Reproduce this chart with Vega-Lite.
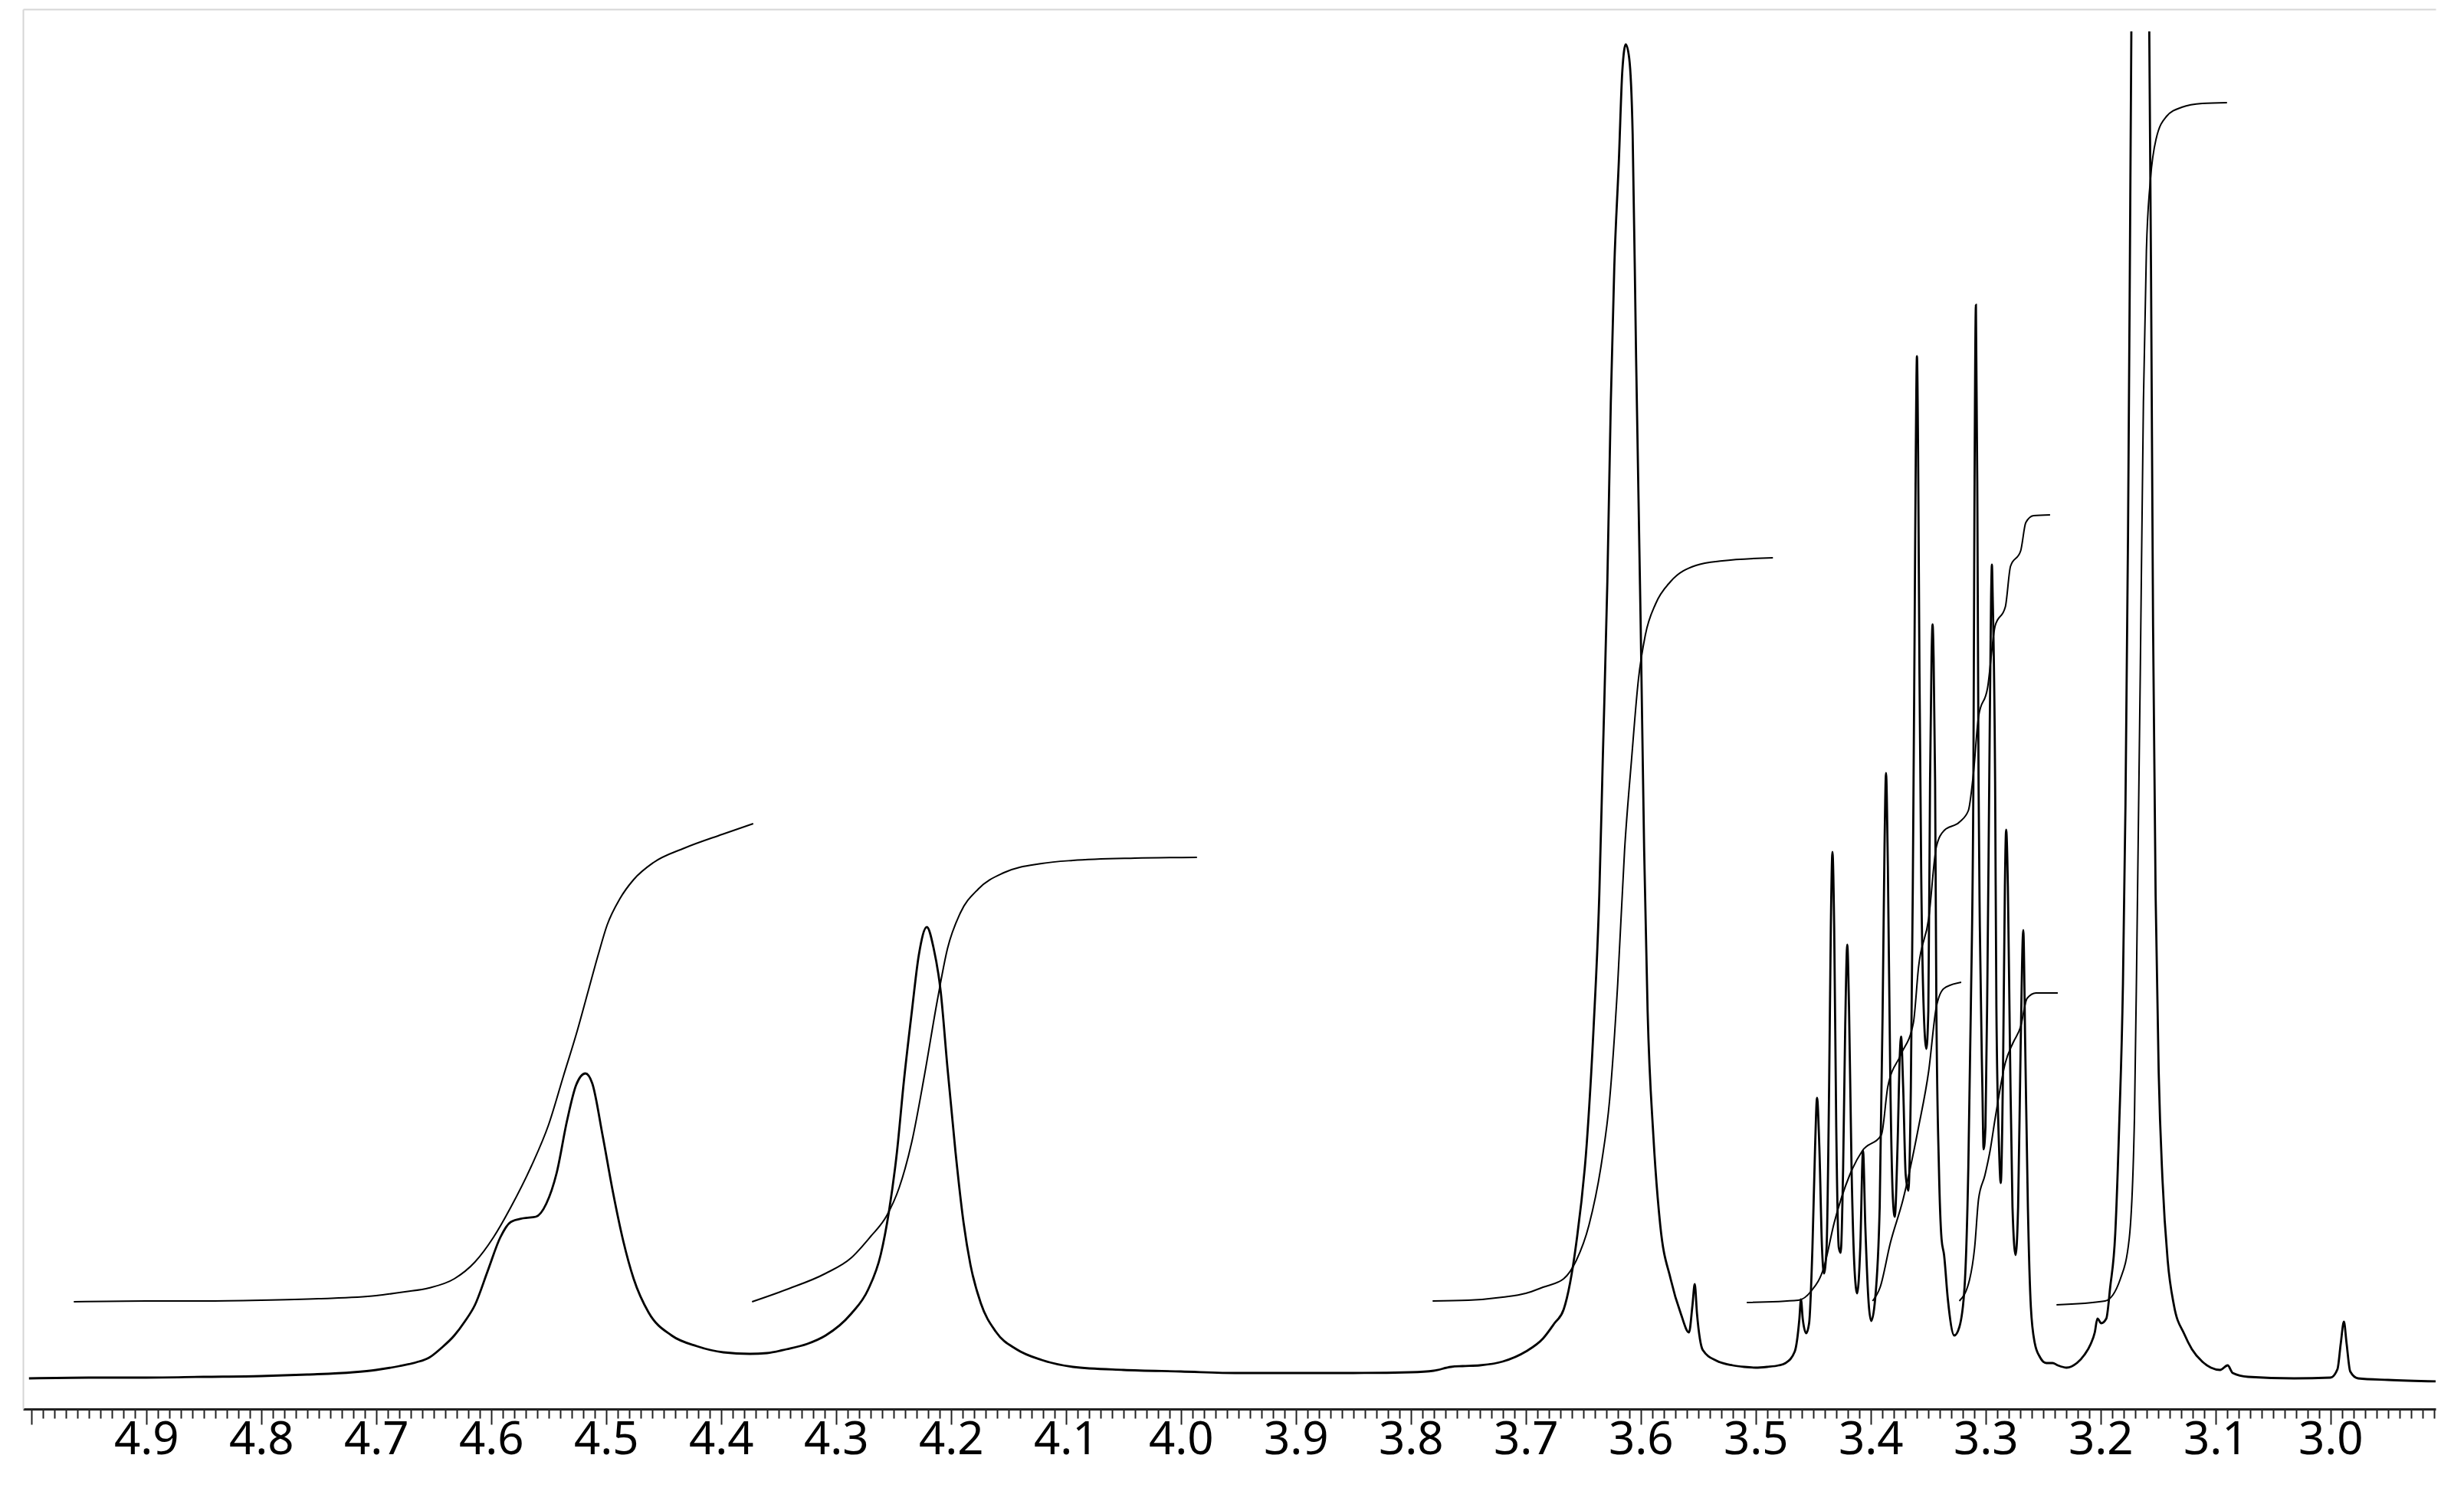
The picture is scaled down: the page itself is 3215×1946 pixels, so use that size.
{
  "$schema": "https://vega.github.io/schema/vega-lite/v6.json",
  "width": 3148,
  "height": 1827,
  "autosize": {"type": "none"},
  "padding": {"left": 30, "top": 12, "right": 37, "bottom": 107},
  "background": "white",
  "config": {"view": {"stroke": null}},
  "datasets": {
    "spectrum": [
      {"s":"a","x":5.002,"y":40},{"s":"a","x":4.95,"y":41},{"s":"a","x":4.9,"y":41},{"s":"a","x":4.85,"y":42},{"s":"a","x":4.8,"y":43},{"s":"a","x":4.76,"y":45},{"s":"a","x":4.72,"y":48},{"s":"a","x":4.7,"y":51},{"s":"a","x":4.68,"y":56},{"s":"a","x":4.665,"y":61},{"s":"a","x":4.654,"y":67},{"s":"a","x":4.643,"y":80},{"s":"a","x":4.632,"y":96},{"s":"a","x":4.623,"y":114},{"s":"a","x":4.614,"y":136},{"s":"a","x":4.603,"y":180},{"s":"a","x":4.592,"y":224},{"s":"a","x":4.583,"y":244},{"s":"a","x":4.572,"y":249},{"s":"a","x":4.561,"y":251},{"s":"a","x":4.552,"y":268},{"s":"a","x":4.543,"y":308},{"s":"a","x":4.534,"y":376},{"s":"a","x":4.526,"y":423},{"s":"a","x":4.518,"y":438},{"s":"a","x":4.512,"y":425},{"s":"a","x":4.503,"y":357},{"s":"a","x":4.494,"y":283},{"s":"a","x":4.485,"y":219},{"s":"a","x":4.476,"y":170},{"s":"a","x":4.463,"y":126},{"s":"a","x":4.443,"y":96},{"s":"a","x":4.421,"y":82},{"s":"a","x":4.398,"y":74},{"s":"a","x":4.375,"y":72},{"s":"a","x":4.36,"y":73},{"s":"a","x":4.343,"y":78},{"s":"a","x":4.325,"y":85},{"s":"a","x":4.309,"y":96},{"s":"a","x":4.287,"y":124},{"s":"a","x":4.272,"y":156},{"s":"a","x":4.261,"y":202},{"s":"a","x":4.254,"y":257},{"s":"a","x":4.247,"y":335},{"s":"a","x":4.241,"y":427},{"s":"a","x":4.234,"y":519},{"s":"a","x":4.228,"y":592},{"s":"a","x":4.221,"y":629},{"s":"a","x":4.215,"y":601},{"s":"a","x":4.209,"y":546},{"s":"a","x":4.203,"y":445},{"s":"a","x":4.196,"y":335},{"s":"a","x":4.189,"y":243},{"s":"a","x":4.183,"y":188},{"s":"a","x":4.174,"y":138},{"s":"a","x":4.161,"y":101},{"s":"a","x":4.143,"y":78},{"s":"a","x":4.121,"y":64},{"s":"a","x":4.094,"y":55},{"s":"a","x":4.05,"y":51},{"s":"a","x":4.0,"y":49},{"s":"a","x":3.95,"y":47},{"s":"a","x":3.9,"y":47},{"s":"a","x":3.85,"y":47},{"s":"a","x":3.8,"y":48},{"s":"a","x":3.78,"y":50},{"s":"a","x":3.765,"y":55},{"s":"a","x":3.755,"y":56},{"s":"a","x":3.74,"y":57},{"s":"a","x":3.72,"y":62},{"s":"a","x":3.7,"y":75},{"s":"a","x":3.685,"y":92},{"s":"a","x":3.675,"y":112},{"s":"a","x":3.667,"y":130},{"s":"a","x":3.656,"y":217},{"s":"a","x":3.647,"y":345},{"s":"a","x":3.641,"y":497},{"s":"a","x":3.636,"y":672},{"s":"a","x":3.633,"y":847},{"s":"a","x":3.629,"y":1080},{"s":"a","x":3.626,"y":1314},{"s":"a","x":3.623,"y":1489},{"s":"a","x":3.619,"y":1629},{"s":"a","x":3.616,"y":1746},{"s":"a","x":3.613,"y":1781},{"s":"a","x":3.61,"y":1763},{"s":"a","x":3.607,"y":1664},{"s":"a","x":3.604,"y":1372},{"s":"a","x":3.6,"y":1022},{"s":"a","x":3.597,"y":730},{"s":"a","x":3.594,"y":520},{"s":"a","x":3.589,"y":357},{"s":"a","x":3.583,"y":240},{"s":"a","x":3.574,"y":170},{"s":"a","x":3.565,"y":124},{"s":"a","x":3.558,"y":100},{"s":"a","x":3.555,"y":135},{"s":"a","x":3.553,"y":163},{"s":"a","x":3.551,"y":124},{"s":"a","x":3.546,"y":77},{"s":"a","x":3.534,"y":63},{"s":"a","x":3.52,"y":57},{"s":"a","x":3.51,"y":55},{"s":"a","x":3.5,"y":54},{"s":"a","x":3.49,"y":55},{"s":"a","x":3.48,"y":57},{"s":"a","x":3.474,"y":60},{"s":"a","x":3.466,"y":75},{"s":"a","x":3.462,"y":117},{"s":"a","x":3.4606,"y":143},{"s":"a","x":3.459,"y":117},{"s":"a","x":3.456,"y":99},{"s":"a","x":3.4535,"y":112},{"s":"a","x":3.4506,"y":211},{"s":"a","x":3.4483,"y":342},{"s":"a","x":3.4466,"y":406},{"s":"a","x":3.4446,"y":342},{"s":"a","x":3.4423,"y":211},{"s":"a","x":3.4406,"y":177},{"s":"a","x":3.4383,"y":211},{"s":"a","x":3.4361,"y":421},{"s":"a","x":3.4346,"y":630},{"s":"a","x":3.4332,"y":727},{"s":"a","x":3.4317,"y":630},{"s":"a","x":3.4299,"y":368},{"s":"a","x":3.4277,"y":211},{"s":"a","x":3.4261,"y":204},{"s":"a","x":3.4239,"y":316},{"s":"a","x":3.4221,"y":499},{"s":"a","x":3.4203,"y":606},{"s":"a","x":3.4188,"y":525},{"s":"a","x":3.4166,"y":316},{"s":"a","x":3.4139,"y":180},{"s":"a","x":3.4117,"y":151},{"s":"a","x":3.409,"y":211},{"s":"a","x":3.4066,"y":337},{"s":"a","x":3.4046,"y":238},{"s":"a","x":3.4017,"y":138},{"s":"a","x":3.3995,"y":115},{"s":"a","x":3.3961,"y":143},{"s":"a","x":3.3921,"y":264},{"s":"a","x":3.3895,"y":525},{"s":"a","x":3.3879,"y":734},{"s":"a","x":3.3866,"y":830},{"s":"a","x":3.385,"y":708},{"s":"a","x":3.3828,"y":421},{"s":"a","x":3.3806,"y":274},{"s":"a","x":3.379,"y":251},{"s":"a","x":3.3766,"y":342},{"s":"a","x":3.3746,"y":462},{"s":"a","x":3.3735,"y":486},{"s":"a","x":3.3717,"y":421},{"s":"a","x":3.3695,"y":306},{"s":"a","x":3.3672,"y":285},{"s":"a","x":3.365,"y":421},{"s":"a","x":3.3633,"y":682},{"s":"a","x":3.3618,"y":1000},{"s":"a","x":3.3607,"y":1250},{"s":"a","x":3.3597,"y":1374},{"s":"a","x":3.3587,"y":1250},{"s":"a","x":3.3575,"y":960},{"s":"a","x":3.356,"y":700},{"s":"a","x":3.354,"y":530},{"s":"a","x":3.3515,"y":470},{"s":"a","x":3.3498,"y":520},{"s":"a","x":3.3483,"y":819},{"s":"a","x":3.347,"y":980},{"s":"a","x":3.3461,"y":1024},{"s":"a","x":3.3452,"y":980},{"s":"a","x":3.3439,"y":819},{"s":"a","x":3.3428,"y":525},{"s":"a","x":3.3406,"y":316},{"s":"a","x":3.3383,"y":222},{"s":"a","x":3.3361,"y":201},{"s":"a","x":3.3328,"y":143},{"s":"a","x":3.3272,"y":96},{"s":"a","x":3.3228,"y":107},{"s":"a","x":3.3183,"y":159},{"s":"a","x":3.315,"y":316},{"s":"a","x":3.3128,"y":525},{"s":"a","x":3.3106,"y":819},{"s":"a","x":3.3097,"y":1173},{"s":"a","x":3.3084,"y":1441},{"s":"a","x":3.3071,"y":1173},{"s":"a","x":3.3061,"y":819},{"s":"a","x":3.305,"y":630},{"s":"a","x":3.3028,"y":421},{"s":"a","x":3.3017,"y":339},{"s":"a","x":3.3001,"y":368},{"s":"a","x":3.2983,"y":577},{"s":"a","x":3.2968,"y":819},{"s":"a","x":3.2952,"y":1060},{"s":"a","x":3.2945,"y":1102},{"s":"a","x":3.2938,"y":1060},{"s":"a","x":3.2917,"y":819},{"s":"a","x":3.2906,"y":525},{"s":"a","x":3.2883,"y":342},{"s":"a","x":3.2868,"y":295},{"s":"a","x":3.2846,"y":473},{"s":"a","x":3.2832,"y":682},{"s":"a","x":3.2821,"y":756},{"s":"a","x":3.2806,"y":682},{"s":"a","x":3.2788,"y":473},{"s":"a","x":3.2766,"y":264},{"s":"a","x":3.2739,"y":201},{"s":"a","x":3.2717,"y":264},{"s":"a","x":3.2695,"y":473},{"s":"a","x":3.2672,"y":625},{"s":"a","x":3.2655,"y":473},{"s":"a","x":3.2632,"y":264},{"s":"a","x":3.2606,"y":133},{"s":"a","x":3.2572,"y":86},{"s":"a","x":3.2528,"y":68},{"s":"a","x":3.2472,"y":60},{"s":"a","x":3.2417,"y":60},{"s":"a","x":3.2372,"y":57},{"s":"a","x":3.2295,"y":54},{"s":"a","x":3.2206,"y":60},{"s":"a","x":3.2139,"y":71},{"s":"a","x":3.2085,"y":85},{"s":"a","x":3.205,"y":100},{"s":"a","x":3.2027,"y":118},{"s":"a","x":3.1994,"y":112},{"s":"a","x":3.195,"y":118},{"s":"a","x":3.1916,"y":159},{"s":"a","x":3.1872,"y":229},{"s":"a","x":3.1838,"y":369},{"s":"a","x":3.1805,"y":555},{"s":"a","x":3.1783,"y":789},{"s":"a","x":3.1761,"y":1139},{"s":"a","x":3.1745,"y":1489},{"s":"a","x":3.1732,"y":1798},
      {"s":"b","x":3.1576,"y":1798},{"s":"b","x":3.1561,"y":1489},{"s":"b","x":3.1543,"y":1022},{"s":"b","x":3.1521,"y":672},{"s":"b","x":3.1494,"y":439},{"s":"b","x":3.1461,"y":299},{"s":"b","x":3.1416,"y":194},{"s":"b","x":3.1361,"y":135},{"s":"b","x":3.1272,"y":98},{"s":"b","x":3.1205,"y":78},{"s":"b","x":3.1116,"y":62},{"s":"b","x":3.104,"y":54},{"s":"b","x":3.096,"y":51},{"s":"b","x":3.0894,"y":57},{"s":"b","x":3.085,"y":47},{"s":"b","x":3.0717,"y":42},{"s":"b","x":3.0317,"y":40},{"s":"b","x":3.0,"y":41},{"s":"b","x":2.9939,"y":52},{"s":"b","x":2.991,"y":86},{"s":"b","x":2.9883,"y":114},{"s":"b","x":2.986,"y":86},{"s":"b","x":2.9828,"y":49},{"s":"b","x":2.976,"y":40},{"s":"b","x":2.95,"y":38},{"s":"b","x":2.907,"y":36}
    ],
    "integrals": [
      {"s":"I1","x":4.963,"y":140},{"s":"I1","x":4.9,"y":141},{"s":"I1","x":4.85,"y":141},{"s":"I1","x":4.8,"y":142},{"s":"I1","x":4.75,"y":144},{"s":"I1","x":4.7,"y":148},{"s":"I1","x":4.675,"y":153},{"s":"I1","x":4.654,"y":158},{"s":"I1","x":4.632,"y":170},{"s":"I1","x":4.614,"y":192},{"s":"I1","x":4.598,"y":224},{"s":"I1","x":4.583,"y":263},{"s":"I1","x":4.565,"y":317},{"s":"I1","x":4.55,"y":371},{"s":"I1","x":4.537,"y":435},{"s":"I1","x":4.525,"y":494},{"s":"I1","x":4.516,"y":543},{"s":"I1","x":4.507,"y":592},{"s":"I1","x":4.499,"y":632},{"s":"I1","x":4.488,"y":666},{"s":"I1","x":4.476,"y":691},{"s":"I1","x":4.459,"y":713},{"s":"I1","x":4.432,"y":732},{"s":"I1","x":4.399,"y":750},{"s":"I1","x":4.372,"y":764},
      {"s":"I2","x":4.373,"y":140},{"s":"I2","x":4.343,"y":156},{"s":"I2","x":4.309,"y":177},{"s":"I2","x":4.287,"y":197},{"s":"I2","x":4.27,"y":225},{"s":"I2","x":4.256,"y":252},{"s":"I2","x":4.245,"y":289},{"s":"I2","x":4.234,"y":349},{"s":"I2","x":4.223,"y":436},{"s":"I2","x":4.212,"y":532},{"s":"I2","x":4.203,"y":601},{"s":"I2","x":4.192,"y":647},{"s":"I2","x":4.176,"y":679},{"s":"I2","x":4.154,"y":700},{"s":"I2","x":4.121,"y":712},{"s":"I2","x":4.094,"y":716},{"s":"I2","x":4.04,"y":719},{"s":"I2","x":3.986,"y":720},
      {"s":"I3","x":3.781,"y":141},{"s":"I3","x":3.75,"y":142},{"s":"I3","x":3.72,"y":146},{"s":"I3","x":3.7,"y":151},{"s":"I3","x":3.685,"y":159},{"s":"I3","x":3.667,"y":170},{"s":"I3","x":3.656,"y":194},{"s":"I3","x":3.645,"y":240},{"s":"I3","x":3.634,"y":322},{"s":"I3","x":3.627,"y":404},{"s":"I3","x":3.62,"y":555},{"s":"I3","x":3.614,"y":730},{"s":"I3","x":3.608,"y":847},{"s":"I3","x":3.602,"y":952},{"s":"I3","x":3.596,"y":1010},{"s":"I3","x":3.587,"y":1051},{"s":"I3","x":3.574,"y":1080},{"s":"I3","x":3.552,"y":1101},{"s":"I3","x":3.529,"y":1107},{"s":"I3","x":3.485,"y":1111},
      {"s":"I4","x":3.5077,"y":139},{"s":"I4","x":3.4628,"y":142},{"s":"I4","x":3.4517,"y":154},{"s":"I4","x":3.4406,"y":185},{"s":"I4","x":3.4317,"y":243},{"s":"I4","x":3.4183,"y":305},{"s":"I4","x":3.4072,"y":337},{"s":"I4","x":3.3906,"y":358},{"s":"I4","x":3.385,"y":421},{"s":"I4","x":3.3739,"y":462},{"s":"I4","x":3.3628,"y":504},{"s":"I4","x":3.3583,"y":577},{"s":"I4","x":3.3495,"y":640},{"s":"I4","x":3.3428,"y":734},{"s":"I4","x":3.3361,"y":755},{"s":"I4","x":3.3228,"y":766},{"s":"I4","x":3.315,"y":781},{"s":"I4","x":3.3106,"y":829},{"s":"I4","x":3.3061,"y":904},{"s":"I4","x":3.2983,"y":941},{"s":"I4","x":3.2917,"y":1022},{"s":"I4","x":3.2828,"y":1047},{"s":"I4","x":3.2783,"y":1100},{"s":"I4","x":3.2695,"y":1120},{"s":"I4","x":3.265,"y":1157},{"s":"I4","x":3.2583,"y":1166},{"s":"I4","x":3.2439,"y":1167},
      {"s":"I5","x":3.3983,"y":141},{"s":"I5","x":3.3917,"y":159},{"s":"I5","x":3.3828,"y":217},{"s":"I5","x":3.3717,"y":274},{"s":"I5","x":3.3583,"y":368},{"s":"I5","x":3.3495,"y":441},{"s":"I5","x":3.3428,"y":525},{"s":"I5","x":3.3361,"y":549},{"s":"I5","x":3.3212,"y":557},
      {"s":"I6","x":3.3228,"y":141},{"s":"I6","x":3.3139,"y":169},{"s":"I6","x":3.3095,"y":211},{"s":"I6","x":3.3061,"y":274},{"s":"I6","x":3.3006,"y":305},{"s":"I6","x":3.2961,"y":337},{"s":"I6","x":3.2917,"y":379},{"s":"I6","x":3.2828,"y":452},{"s":"I6","x":3.2761,"y":478},{"s":"I6","x":3.2695,"y":499},{"s":"I6","x":3.2639,"y":536},{"s":"I6","x":3.2561,"y":543},{"s":"I6","x":3.2372,"y":543},
      {"s":"I7","x":3.2383,"y":136},{"s":"I7","x":3.196,"y":141},{"s":"I7","x":3.1827,"y":170},{"s":"I7","x":3.175,"y":223},{"s":"I7","x":3.1705,"y":380},{"s":"I7","x":3.1683,"y":614},{"s":"I7","x":3.1654,"y":964},{"s":"I7","x":3.1627,"y":1314},{"s":"I7","x":3.1601,"y":1512},{"s":"I7","x":3.1565,"y":1606},{"s":"I7","x":3.1516,"y":1658},{"s":"I7","x":3.1427,"y":1687},{"s":"I7","x":3.1294,"y":1699},{"s":"I7","x":3.1116,"y":1704},{"s":"I7","x":3.09,"y":1705}
    ]
  },
  "resolve": {"axis": {"x": "independent"}},
  "layer": [
    {
      "data": {"name": "integrals"},
      "mark": {"type": "line", "color": "black", "strokeWidth": 2, "interpolate": "monotone", "clip": true},
      "encoding": {
        "x": {"field": "x", "type": "quantitative",
              "scale": {"domain": [2.9085, 5.0072], "reverse": true, "nice": false, "zero": false},
              "axis": {"orient": "top", "domain": true, "domainColor": "#d6d6d6", "domainWidth": 2, "ticks": false, "labels": false, "grid": false, "title": null}},
        "y": {"field": "y", "type": "quantitative",
              "scale": {"domain": [0, 1827], "nice": false, "zero": false},
              "axis": {"orient": "left", "domain": true, "domainColor": "#d6d6d6", "domainWidth": 2, "ticks": false, "labels": false, "grid": false, "title": null}},
        "detail": {"field": "s", "type": "nominal"}
      }
    },
    {
      "data": {"name": "spectrum"},
      "mark": {"type": "line", "color": "black", "strokeWidth": 2.8, "interpolate": "monotone", "clip": true},
      "encoding": {
        "x": {"field": "x", "type": "quantitative",
              "scale": {"domain": [2.9085, 5.0072], "reverse": true, "nice": false, "zero": false},
              "axis": {"orient": "bottom",
                       "values": [5,4.99,4.98,4.97,4.96,4.95,4.94,4.93,4.92,4.91,4.9,4.89,4.88,4.87,4.86,4.85,4.84,4.83,4.82,4.81,4.8,4.79,4.78,4.77,4.76,4.75,4.74,4.73,4.72,4.71,4.7,4.69,4.68,4.67,4.66,4.65,4.64,4.63,4.62,4.61,4.6,4.59,4.58,4.57,4.56,4.55,4.54,4.53,4.52,4.51,4.5,4.49,4.48,4.47,4.46,4.45,4.44,4.43,4.42,4.41,4.4,4.39,4.38,4.37,4.36,4.35,4.34,4.33,4.32,4.31,4.3,4.29,4.28,4.27,4.26,4.25,4.24,4.23,4.22,4.21,4.2,4.19,4.18,4.17,4.16,4.15,4.14,4.13,4.12,4.11,4.1,4.09,4.08,4.07,4.06,4.05,4.04,4.03,4.02,4.01,4,3.99,3.98,3.97,3.96,3.95,3.94,3.93,3.92,3.91,3.9,3.89,3.88,3.87,3.86,3.85,3.84,3.83,3.82,3.81,3.8,3.79,3.78,3.77,3.76,3.75,3.74,3.73,3.72,3.71,3.7,3.69,3.68,3.67,3.66,3.65,3.64,3.63,3.62,3.61,3.6,3.59,3.58,3.57,3.56,3.55,3.54,3.53,3.52,3.51,3.5,3.49,3.48,3.47,3.46,3.45,3.44,3.43,3.42,3.41,3.4,3.39,3.38,3.37,3.36,3.35,3.34,3.33,3.32,3.31,3.3,3.29,3.28,3.27,3.26,3.25,3.24,3.23,3.22,3.21,3.2,3.19,3.18,3.17,3.16,3.15,3.14,3.13,3.12,3.11,3.1,3.09,3.08,3.07,3.06,3.05,3.04,3.03,3.02,3.01,3,2.99,2.98,2.97,2.96,2.95,2.94,2.93,2.92,2.91],
                       "domain": true, "domainColor": "#222222", "domainWidth": 3,
                       "ticks": true, "tickColor": "#222222", "tickWidth": 2,
                       "tickSize": {"condition": {"test": "abs(datum.value*10 - round(datum.value*10)) < 0.001", "value": 20}, "value": 12},
                       "labelExpr": "abs(datum.value*10 - round(datum.value*10)) < 0.001 && datum.value < 4.995 ? format(datum.value, '.1f') : ''",
                       "labelFont": "Noto Sans", "labelFontSize": 60, "labelColor": "black",
                       "labelBaseline": "alphabetic", "labelPadding": 38,
                       "labelOverlap": false, "labelFlush": false, "labelBound": false,
                       "grid": false, "title": null}},
        "y": {"field": "y", "type": "quantitative",
              "scale": {"domain": [0, 1827], "nice": false, "zero": false},
              "axis": {"orient": "left", "domain": true, "domainColor": "#d6d6d6", "domainWidth": 2, "ticks": false, "labels": false, "grid": false, "title": null}},
        "detail": {"field": "s", "type": "nominal"}
      }
    }
  ]
}
